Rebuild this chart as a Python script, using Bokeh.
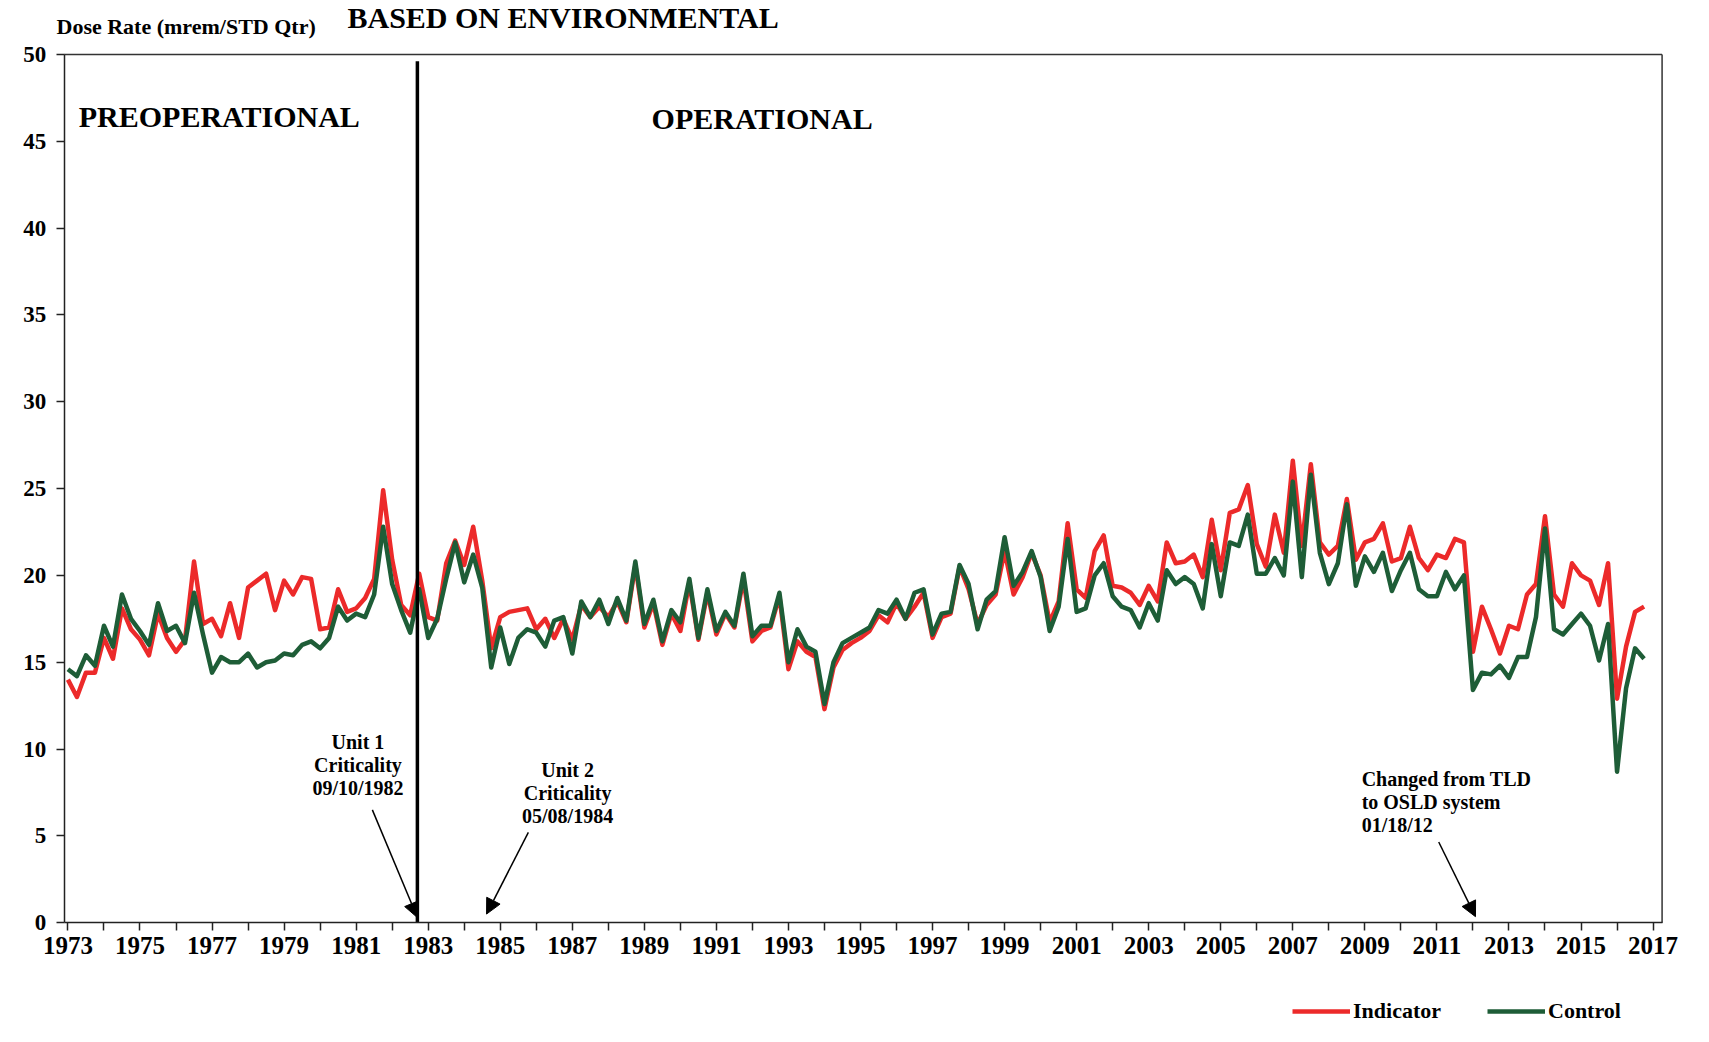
from bokeh.plotting import figure
from bokeh.models import FixedTicker, Label, Arrow, NormalHead, Legend, LegendItem, Title
from bokeh.embed import file_html
from bokeh.resources import INLINE

# ---------------- data ----------------
start_year = 1973
n_quarters = 176
quarters = [start_year + i / 4 for i in range(n_quarters)]

indicator = [
    14.0, 13.0, 14.4, 14.4, 16.4, 15.2, 18.1, 16.9, 16.3, 15.4,
    17.8, 16.4, 15.6, 16.3, 20.8, 17.2, 17.5, 16.5, 18.4, 16.4,
    19.3, 19.7, 20.1, 18.0, 19.7, 18.9, 19.9, 19.8, 16.9, 17.0,
    19.2, 17.9, 18.1, 18.7, 19.8, 24.9, 20.9, 18.3, 17.7, 20.1,
    17.6, 17.4, 20.7, 22.0, 20.6, 22.8, 19.7, 15.8, 17.6, 17.9,
    18.0, 18.1, 16.9, 17.5, 16.4, 17.5, 16.3, 18.3, 17.6, 18.2,
    17.6, 18.5, 17.3, 20.6, 17.0, 18.4, 16.0, 17.8, 16.8, 19.6,
    16.3, 19.0, 16.6, 17.8, 17.0, 19.8, 16.2, 16.8, 17.0, 18.8,
    14.6, 16.2, 15.6, 15.3, 12.3, 14.7, 15.7, 16.1, 16.4, 16.8,
    17.7, 17.3, 18.4, 17.5, 18.2, 19.0, 16.4, 17.6, 17.8, 20.5,
    19.2, 17.2, 18.3, 18.9, 21.4, 18.9, 19.9, 21.3, 20.0, 17.3,
    18.5, 23.0, 19.2, 18.7, 21.4, 22.3, 19.4, 19.3, 19.0, 18.3,
    19.4, 18.5, 21.9, 20.7, 20.8, 21.2, 19.9, 23.2, 20.3, 23.6,
    23.8, 25.2, 21.8, 20.5, 23.5, 21.3, 26.6, 21.7, 26.4, 21.9,
    21.2, 21.7, 24.4, 20.9, 21.9, 22.1, 23.0, 20.8, 21.0, 22.8,
    21.0, 20.3, 21.2, 21.0, 22.1, 21.9, 15.6, 18.2, 16.9, 15.5,
    17.1, 16.9, 18.9, 19.5, 23.4, 18.9, 18.2, 20.7, 20.0, 19.7,
    18.3, 20.7, 12.9, 15.9, 17.9, 18.2,
]

control = [
    14.6, 14.2, 15.4, 14.8, 17.1, 15.9, 18.9, 17.5, 16.8, 16.0,
    18.4, 16.8, 17.1, 16.1, 19.0, 16.6, 14.4, 15.3, 15.0, 15.0,
    15.5, 14.7, 15.0, 15.1, 15.5, 15.4, 16.0, 16.2, 15.8, 16.4,
    18.2, 17.4, 17.8, 17.6, 18.9, 22.8, 19.5, 18.0, 16.7, 19.2,
    16.4, 17.5, 19.8, 21.9, 19.6, 21.2, 19.3, 14.7, 17.0, 14.9,
    16.4, 16.9, 16.7, 15.9, 17.4, 17.6, 15.5, 18.5, 17.6, 18.6,
    17.2, 18.7, 17.4, 20.8, 17.2, 18.6, 16.2, 18.0, 17.3, 19.8,
    16.4, 19.2, 16.8, 17.9, 17.1, 20.1, 16.5, 17.1, 17.1, 19.0,
    15.0, 16.9, 15.9, 15.6, 12.6, 15.0, 16.1, 16.4, 16.7, 17.0,
    18.0, 17.8, 18.6, 17.5, 19.0, 19.2, 16.6, 17.8, 17.9, 20.6,
    19.5, 16.9, 18.6, 19.1, 22.2, 19.4, 20.2, 21.4, 19.9, 16.8,
    18.2, 22.1, 17.9, 18.1, 20.0, 20.7, 18.8, 18.2, 18.0, 17.0,
    18.4, 17.4, 20.3, 19.5, 19.9, 19.5, 18.1, 21.8, 18.8, 21.9,
    21.7, 23.5, 20.1, 20.1, 21.0, 20.0, 25.4, 19.9, 25.8, 21.3,
    19.5, 20.7, 24.1, 19.4, 21.1, 20.2, 21.3, 19.1, 20.3, 21.3,
    19.2, 18.8, 18.8, 20.2, 19.2, 20.0, 13.4, 14.4, 14.3, 14.8,
    14.1, 15.3, 15.3, 17.6, 22.7, 16.9, 16.6, 17.2, 17.8, 17.1,
    15.1, 17.2, 8.7, 13.5, 15.8, 15.2,
]

x_ticks = list(range(1973, 2018))
x_tick_labels = {y: (str(y) if (y - 1973) % 2 == 0 else "") for y in x_ticks}
y_ticks = list(range(0, 51, 5))

unit1_criticality = 1982.7
unit1_lines = ["Unit 1", "Criticality", "09/10/1982"]
unit2_lines = ["Unit 2", "Criticality", "05/08/1984"]
osld_lines = ["Changed from TLD", "to OSLD system", "01/18/12"]
series_names = ["Indicator", "Control"]

SERIF = "Liberation Serif"
RED = "#EC2A2A"
GREEN = "#1E5D37"
AXIS_X0, AXIS_X1 = 1972.9, 2017.25   # chart box in data units
Y_TOP = 50

# ---------------- figure ----------------
# the frame is a little larger than the chart box so that the tick labels
# and the legend under the axis are drawn inside it
p = figure(width=1690, height=1026, output_backend="svg", toolbar_location=None,
           x_range=(1971.6, 2017.9), y_range=(-5.86, 50.8),
           min_border_left=17, min_border_right=5, min_border_top=40,
           min_border_bottom=2)
p.background_fill_color = "white"
p.border_fill_color = "white"
p.outline_line_color = None
p.xgrid.visible = False
p.ygrid.visible = False

# titles above the frame (p.title is the outer one)
p.title.text = "BASED ON ENVIRONMENTAL"
p.title.align = "left"
p.title.offset = 330
p.title.standoff = -49
p.title.text_font = SERIF
p.title.text_font_style = "bold"
p.title.text_font_size = "30px"
p.title.text_color = "black"
p.add_layout(Title(text="Dose Rate (mrem/STD Qtr)", align="left", offset=39, standoff=4,
                   text_font=SERIF, text_font_style="bold", text_font_size="22px",
                   text_color="black"), "above")

for ax in (p.xaxis, p.yaxis):
    ax.axis_line_color = "#222222"
    ax.axis_line_width = 1.5
    ax.major_tick_line_color = "#222222"
    ax.major_tick_line_width = 1.5
    ax.major_tick_in = 0
    ax.major_tick_out = 8
    ax.minor_tick_out = 0
    ax.minor_tick_in = 0
    ax.major_label_text_font = SERIF
    ax.major_label_text_font_style = "bold"
    ax.major_label_text_color = "black"

p.xaxis.fixed_location = 0
p.xaxis.bounds = (AXIS_X0, AXIS_X1)
p.xaxis.ticker = FixedTicker(ticks=x_ticks)
p.xaxis.major_label_overrides = x_tick_labels
p.xaxis.major_label_text_font_size = "25px"
p.xaxis.major_label_standoff = 6
p.yaxis.fixed_location = AXIS_X0
p.yaxis.bounds = (0, Y_TOP)
p.yaxis.ticker = FixedTicker(ticks=y_ticks)
p.yaxis.major_label_text_font_size = "23px"
p.yaxis.major_label_standoff = 10

# chart box (top and right edges)
p.line([AXIS_X0, AXIS_X1], [Y_TOP, Y_TOP], line_color="#333333", line_width=1.5)
p.line([AXIS_X1, AXIS_X1], [0, Y_TOP], line_color="#333333", line_width=1.5)

# ---------------- series ----------------
r_ind = p.line(quarters, indicator, line_color=RED, line_width=4.5, line_join="round")
r_ctl = p.line(quarters, control, line_color=GREEN, line_width=4.5, line_join="round")

# vertical divider at Unit 1 criticality
p.line([unit1_criticality, unit1_criticality], [0, 49.6], line_color="black", line_width=3.5)

# ---------------- texts ----------------
def add_label(x, y, text, size, align="left", baseline="middle", y_off=0):
    p.add_layout(Label(x=x, y=y, y_offset=y_off, text=text, text_font=SERIF,
                       text_font_style="bold", text_font_size=size, text_color="black",
                       text_align=align, text_baseline=baseline))

add_label(1973.3, 46.4, "PREOPERATIONAL", "30px")
add_label(1989.2, 46.3, "OPERATIONAL", "30px")

for k, txt in enumerate(unit1_lines):
    add_label(1981.05, 10.4, txt, "20px", align="center", y_off=-23 * k)
for k, txt in enumerate(unit2_lines):
    add_label(1986.87, 8.8, txt, "20px", align="center", y_off=-23 * k)
for k, txt in enumerate(osld_lines):
    add_label(2008.91, 8.25, txt, "20px", align="left", y_off=-23 * k)

arrows = [
    (1981.45, 6.5, 1982.7, 0.3),
    (1985.78, 5.2, 1984.62, 0.5),
    (2011.05, 4.65, 2012.07, 0.35),
]
for xs, ys, xe, ye in arrows:
    p.add_layout(Arrow(end=NormalHead(size=15, fill_color="black", line_color="black"),
                       x_start=xs, y_start=ys, x_end=xe, y_end=ye,
                       line_color="black", line_width=1.5))

# ---------------- legend under the axis ----------------
legend = Legend(items=[LegendItem(label=series_names[0], renderers=[r_ind]),
                       LegendItem(label=series_names[1], renderers=[r_ctl])],
                orientation="horizontal", location=(1275, 0),
                glyph_width=58, glyph_height=22, label_standoff=3, spacing=46,
                border_line_color=None, background_fill_alpha=0,
                margin=0, padding=0,
                label_text_font=SERIF, label_text_font_style="bold",
                label_text_font_size="22px", label_text_color="black")
p.add_layout(legend)

open("out.html", "w").write(file_html(p, INLINE))
